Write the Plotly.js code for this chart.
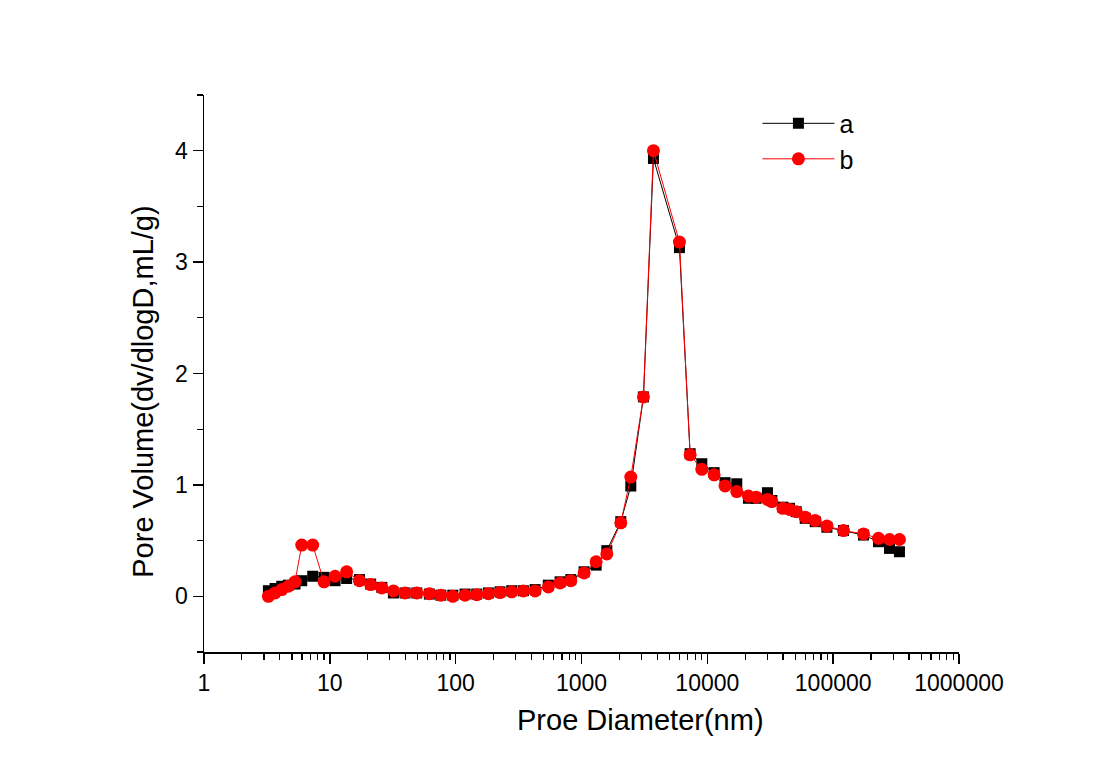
<!DOCTYPE html>
<html>
<head>
<meta charset="utf-8">
<script src="https://cdn.plot.ly/plotly-3.0.1.min.js"></script>
<style>html,body{margin:0;padding:0;background:#fff;}#chart{width:1100px;height:772px;}</style>
</head>
<body>
<div id="chart"></div>
<script>
// Pore diameter (nm)
const diameter = [3.25, 3.67, 4.15, 4.68, 5.29, 5.98, 7.31, 8.99, 11.0, 13.6, 17.2, 21.1, 25.9, 32.0, 39.6, 49.1, 61.8, 76.2, 94.9, 118.8, 147, 182, 225, 279, 345, 428, 545, 676, 822, 1049, 1307, 1589, 2052, 2465, 3106, 3731, 6003, 7300, 9040, 11320, 13840, 17140, 21220, 24430, 30050, 32560, 39840, 44950, 50820, 59950, 71990, 89170, 120800, 174200, 229200, 280400, 336300];
// Series a (black squares)
const seriesA = [0.05, 0.07, 0.09, 0.10, 0.11, 0.14, 0.18, 0.17, 0.14, 0.16, 0.15, 0.11, 0.08, 0.03, 0.03, 0.03, 0.02, 0.01, 0.01, 0.02, 0.02, 0.03, 0.04, 0.05, 0.05, 0.06, 0.10, 0.13, 0.15, 0.22, 0.28, 0.41, 0.67, 0.99, 1.79, 3.93, 3.13, 1.28, 1.19, 1.11, 1.02, 1.01, 0.88, 0.88, 0.93, 0.86, 0.80, 0.79, 0.76, 0.70, 0.67, 0.62, 0.59, 0.55, 0.49, 0.43, 0.40];
// Series b (red circles)
const seriesB = [0.00, 0.03, 0.06, 0.09, 0.13, 0.46, 0.46, 0.13, 0.18, 0.22, 0.14, 0.105, 0.075, 0.048, 0.03, 0.03, 0.024, 0.01, 0.00, 0.01, 0.015, 0.024, 0.033, 0.04, 0.048, 0.048, 0.084, 0.12, 0.14, 0.21, 0.31, 0.38, 0.66, 1.07, 1.79, 4.00, 3.18, 1.27, 1.14, 1.09, 0.99, 0.94, 0.90, 0.89, 0.87, 0.85, 0.79, 0.78, 0.76, 0.71, 0.68, 0.63, 0.59, 0.56, 0.52, 0.51, 0.51];
const xTickVals = [1, 10, 100, 1000, 10000, 100000, 1000000];
const xTickText = ["1", "10", "100", "1000", "10000", "100000", "1000000"];
const yTickVals = [0, 1, 2, 3, 4];
const xTitle = "Proe Diameter(nm)";
const yTitle = "Pore Volume(dv/dlogD,mL/g)";

const font = "Liberation Sans, Arial, sans-serif";
const traces = [
  {x: diameter, y: seriesA, name: "a", type: "scatter", mode: "lines+markers",
   line: {color: "#000000", width: 1}, marker: {symbol: "square", size: 11, color: "#000000"}},
  {x: diameter, y: seriesB, name: "b", type: "scatter", mode: "lines+markers",
   line: {color: "#ff0000", width: 1}, marker: {symbol: "circle", size: 13, color: "#ff0000"}}
];
const layout = {
  width: 1100, height: 772,
  margin: {l: 204, r: 141, t: 95, b: 120},
  paper_bgcolor: "#ffffff", plot_bgcolor: "#ffffff",
  font: {family: font, color: "#000000"},
  showlegend: true,
  legend: {x: 0.733, y: 0.99, xanchor: "left", yanchor: "top", bgcolor: "rgba(0,0,0,0)",
           font: {size: 25, family: font}, tracegroupgap: 0, itemwidth: 72},
  xaxis: {
    type: "log", range: [0, 6], showgrid: false, zeroline: false,
    showline: true, linecolor: "#000", linewidth: 1.5, mirror: false,
    ticks: "outside", ticklen: 10, tickwidth: 1.5, tickcolor: "#000",
    tickvals: xTickVals, ticktext: xTickText,
    tickfont: {size: 23, family: font},
    minor: {ticks: "outside", ticklen: 6, tickwidth: 1.2, tickcolor: "#000", dtick: "D1", showgrid: false}
  },
  yaxis: {
    range: [-0.5, 4.5], showgrid: false, zeroline: false,
    showline: true, linecolor: "#000", linewidth: 1.5, mirror: false,
    ticks: "outside", ticklen: 10, tickwidth: 1.5, tickcolor: "#000",
    tickvals: yTickVals, tickfont: {size: 23, family: font},
    minor: {ticks: "outside", ticklen: 6, tickwidth: 1.2, tickcolor: "#000", dtick: 0.5, tick0: 0.5, showgrid: false}
  },
  annotations: [
    {text: xTitle, xref: "paper", yref: "paper", x: 0.5775, y: -0.122, xanchor: "center", yanchor: "middle",
     showarrow: false, font: {size: 29, family: font, color: "#000"}},
    {text: yTitle, xref: "paper", yref: "paper", x: -0.081, y: 0.467, xanchor: "center", yanchor: "middle",
     textangle: -90, showarrow: false, font: {size: 29, family: font, color: "#000"}}
  ]
};
Plotly.newPlot("chart", traces, layout, {displayModeBar: false, staticPlot: true});
</script>
</body>
</html>
